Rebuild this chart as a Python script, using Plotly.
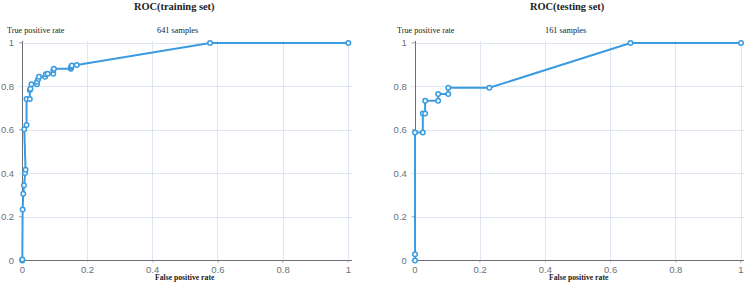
import plotly.graph_objects as go

# Training set ROC (641 samples)
train_fpr = [0.0, 0.0, 0.001, 0.003, 0.005, 0.008, 0.010, 0.006, 0.013, 0.013, 0.023, 0.023, 0.025, 0.028,
             0.045, 0.045, 0.049, 0.051, 0.070, 0.072, 0.078, 0.095, 0.095, 0.097, 0.149, 0.149, 0.150,
             0.152, 0.167, 0.576, 1.0]
train_tpr = [0.0, 0.005, 0.234, 0.307, 0.346, 0.402, 0.417, 0.603, 0.623, 0.743, 0.743, 0.784, 0.790, 0.810,
             0.810, 0.822, 0.834, 0.845, 0.845, 0.856, 0.859, 0.859, 0.876, 0.882, 0.882, 0.886, 0.892,
             0.897, 0.899, 1.0, 1.0]

# Testing set ROC (161 samples)
test_fpr = [0.0, 0.0, 0.0, 0.024, 0.024, 0.031, 0.031, 0.071, 0.071, 0.102, 0.102, 0.228, 0.661, 1.0]
test_tpr = [0.0, 0.029, 0.588, 0.588, 0.676, 0.676, 0.735, 0.735, 0.765, 0.765, 0.794, 0.794, 1.0, 1.0]

titles = ["ROC(training set)", "ROC(testing set)"]
sample_labels = ["641 samples", "161 samples"]
tick_vals = [0, 0.2, 0.4, 0.6, 0.8, 1]
tick_text = ["0", "0.2", "0.4", "0.6", "0.8", "1"]

W, H = 744, 282
LINE = "#3a9be0"
AXC = "#6e7079"
GRID = "#e0e6f1"
SERIF = "Liberation Serif, Times New Roman, serif"
SANS = "Liberation Sans, Arial, sans-serif"

px0 = [22.3, 415.0]
px1 = [348.3, 741.0]
ytop, ybot = 43.0, 260.5
PAD = 0.01

fig = go.Figure()
for i, (fx, ty) in enumerate([(train_fpr, train_tpr), (test_fpr, test_tpr)]):
    xa = "x" if i == 0 else "x2"
    ya = "y" if i == 0 else "y2"
    fig.add_trace(go.Scatter(
        x=fx, y=ty, xaxis=xa, yaxis=ya, mode="lines+markers",
        line=dict(color=LINE, width=2),
        marker=dict(size=4.5, color="white", line=dict(color=LINE, width=1.5)),
        cliponaxis=False, showlegend=False, hoverinfo="x+y"))

ax_common = dict(tickvals=tick_vals, ticktext=tick_text, showline=False,
                 showgrid=True, gridcolor=GRID, gridwidth=1, ticklabeloverflow="allow",
                 zeroline=True, zerolinecolor=AXC, zerolinewidth=1, automargin=False,
                 tickfont=dict(family=SANS, size=9.5, color=AXC), fixedrange=True)

layout = dict(width=W, height=H, margin=dict(l=0, r=0, t=0, b=0, pad=0), paper_bgcolor="white",
              plot_bgcolor="white", showlegend=False)
shapes = []
for i in range(2):
    sfx = "" if i == 0 else "2"
    xspan = px1[i] - px0[i]
    yspan = ybot - ytop
    padr = min(PAD, (W - px1[i]) / xspan)
    layout["xaxis" + sfx] = dict(ax_common, range=[-PAD, 1 + padr], ticks="",
                                 domain=[(px0[i] - xspan * PAD) / W, min(1.0, (px1[i] + xspan * padr) / W)],
                                 anchor="y" + sfx)
    layout["yaxis" + sfx] = dict(ax_common, range=[-PAD, 1 + PAD],
                                 ticks="outside", ticklen=2, tickcolor="rgba(0,0,0,0)",
                                 domain=[1 - (ybot + yspan * PAD) / H, 1 - (ytop - yspan * PAD) / H],
                                 anchor="x" + sfx)
    for v in tick_vals:
        shapes.append(dict(type="line", xref="x" + sfx, yref="y" + sfx, x0=v, x1=v, ysizemode="pixel",
                           yanchor=0, y0=0, y1=-4, line=dict(color=AXC, width=1), layer="below"))
        shapes.append(dict(type="line", xref="x" + sfx, yref="y" + sfx, y0=v, y1=v, xsizemode="pixel",
                           xanchor=0, x0=0, x1=-4, line=dict(color=AXC, width=1), layer="below"))
fig.update_layout(**layout)

ann = []
title_cx = [174, 567]
tpr_cx = [36, 426]
samp_cx = [177, 565]
fpr_cx = [185, 579]
for i in range(2):
    ann.append(dict(text="<b>" + titles[i] + "</b>", x=title_cx[i] / W, y=1 - 7 / H, xref="paper", yref="paper",
                    showarrow=False, font=dict(family=SERIF, size=10.4, color="#222"), xanchor="center", yanchor="middle"))
    ann.append(dict(text="True positive rate", x=tpr_cx[i] / W, y=1 - 31 / H, xref="paper", yref="paper",
                    showarrow=False, font=dict(family=SERIF, size=8.2, color="#222"), xanchor="center", yanchor="middle"))
    ann.append(dict(text=sample_labels[i], x=samp_cx[i] / W, y=1 - 31 / H, xref="paper", yref="paper",
                    showarrow=False, font=dict(family=SERIF, size=8.3, color="#222"), xanchor="center", yanchor="middle"))
    ann.append(dict(text="<b>False positive rate</b>", x=fpr_cx[i] / W, y=1 - 277 / H, xref="paper", yref="paper",
                    showarrow=False, font=dict(family=SERIF, size=7.7, color="#222"), xanchor="center", yanchor="middle"))
fig.update_layout(annotations=ann, shapes=shapes)

fig.write_html("out.html")
